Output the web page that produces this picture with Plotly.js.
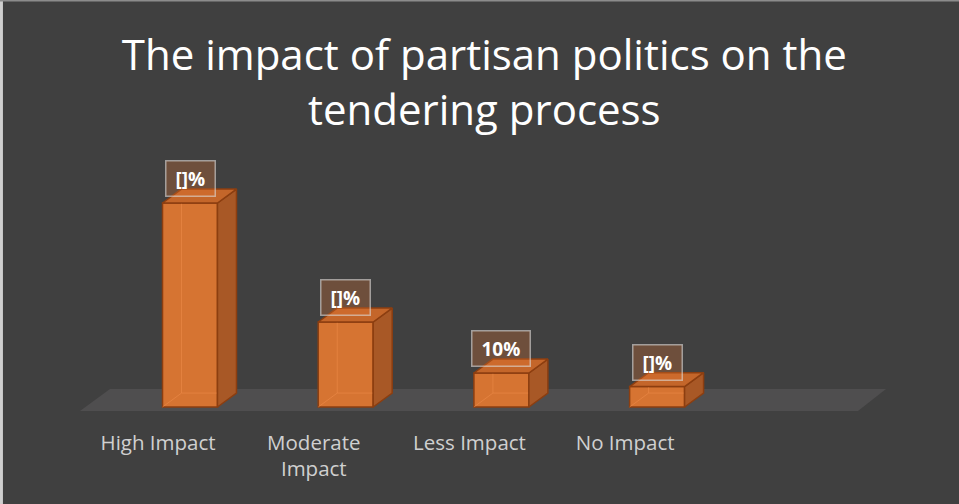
<!DOCTYPE html>
<html>
<head>
<meta charset="utf-8">
<script src="https://cdn.plot.ly/plotly-3.0.1.min.js"></script>
<style>html,body{margin:0;padding:0;background:#404040;}#chart{width:959px;height:504px;}</style>
</head>
<body>
<div id="chart"></div>
<script>
// ---- data ----
const categories = ["High Impact", "Moderate Impact", "Less Impact", "No Impact"];
const values = [60, 25, 10, 6];
const dataLabels = ["[]%", "[]%", "10%", "[]%"];
const chartTitle = "The impact of partisan politics on the<br>tendering process";

// ---- styling / geometry (axis units) ----
const barW = 0.353;      // front face width
const depthX = 0.122;    // 3D depth offset, x units
const depthY = 4.1;      // 3D depth offset, y units
const labelShift = 0.205;

const idx = categories.map((c, i) => i);

function wrap(label) {
  return label === "Moderate Impact" ? "Moderate<br>Impact" : label;
}

// side and top faces built from the data values
const sideX = [], sideY = [], topX = [], topY = [], edgeX = [], edgeY = [];
idx.forEach((i) => {
  const v = values[i];
  const l = i - barW / 2, r = i + barW / 2;
  sideX.push(r, r + depthX, r + depthX, r, r, null);
  sideY.push(0, depthY, v + depthY, v, 0, null);
  topX.push(l, r, r + depthX, l + depthX, l, null);
  topY.push(v, v, v + depthY, v + depthY, v, null);
  // faint hidden back edges seen through the translucent front
  edgeX.push(l + depthX, l + depthX, r + depthX, null, l, l + depthX, null);
  edgeY.push(v + depthY, depthY, depthY, null, 0, depthY, null);
});

const edgeCol = "rgb(140,62,16)";

const traces = [
  {
    type: "bar",
    x: idx,
    y: values,
    width: barW,
    marker: { color: "rgb(214,116,50)", line: { color: edgeCol, width: 1.5 } },
    hoverinfo: "skip",
    showlegend: false
  },
  {
    type: "scatter", mode: "lines",
    x: edgeX, y: edgeY,
    line: { color: "rgba(238,140,75,0.55)", width: 1 },
    hoverinfo: "skip", showlegend: false
  },
  {
    type: "scatter", mode: "lines", fill: "toself",
    x: sideX, y: sideY,
    fillcolor: "rgb(168,88,38)",
    line: { color: edgeCol, width: 1.5 },
    hoverinfo: "skip", showlegend: false
  },
  {
    type: "scatter", mode: "lines", fill: "toself",
    x: topX, y: topY,
    fillcolor: "rgb(196,102,42)",
    line: { color: edgeCol, width: 1.5 },
    hoverinfo: "skip", showlegend: false
  }
];

const annotations = idx.map((i) => ({
  x: i, y: values[i], xref: "x", yref: "y",
  text: "&nbsp;<b>" + dataLabels[i] + "</b>&nbsp;",
  showarrow: false,
  yanchor: "bottom",
  yshift: 6,
  font: { family: "Open Sans, sans-serif", size: 19, color: "#ffffff" },
  bgcolor: "rgba(230,120,50,0.28)",
  bordercolor: "rgba(220,220,220,0.6)",
  borderwidth: 1.5,
  borderpad: 4
}));

const layout = {
  width: 959,
  height: 504,
  paper_bgcolor: "#404040",
  plot_bgcolor: "rgba(0,0,0,0)",
  margin: { l: 0, r: 0, t: 140, b: 79 },
  title: {
    text: chartTitle,
    x: 0.505, xanchor: "center",
    y: 0.861, yanchor: "bottom", yref: "container",
    font: { family: "Open Sans, sans-serif", size: 42, color: "#ffffff" }
  },
  xaxis: {
    range: [-1.2203, 4.939],
    tickvals: idx.map((i) => i - labelShift),
    ticktext: categories.map(wrap),
    showgrid: false, zeroline: false, showline: false,
    ticks: "",
    ticklabelstandoff: 3,
    tickfont: { family: "Open Sans, sans-serif", size: 20.5, color: "#d0d0d0" },
    fixedrange: true
  },
  yaxis: {
    range: [-5.29, 78.53],
    visible: false,
    fixedrange: true
  },
  annotations: annotations,
  shapes: [
    {
      type: "path", xref: "x", yref: "y", layer: "below",
      path: "M -0.7065 -1.18 L 4.290 -1.18 L 4.470 5.29 L -0.514 5.29 Z",
      fillcolor: "#4f4e4f", line: { width: 0 }
    },
    {
      type: "line", xref: "paper", yref: "paper",
      x0: 0.0015, x1: 0.0015, y0: -0.3, y1: 1.495,
      line: { color: "#cfcfcf", width: 3 }
    },
    {
      type: "line", xref: "paper", yref: "paper",
      x0: 0, x1: 1, y0: 1.4895, y1: 1.4895,
      line: { color: "#8c8c8c", width: 2 }
    }
  ],
  showlegend: false
};

Plotly.newPlot("chart", traces, layout, { displayModeBar: false, staticPlot: true });
</script>
</body>
</html>
